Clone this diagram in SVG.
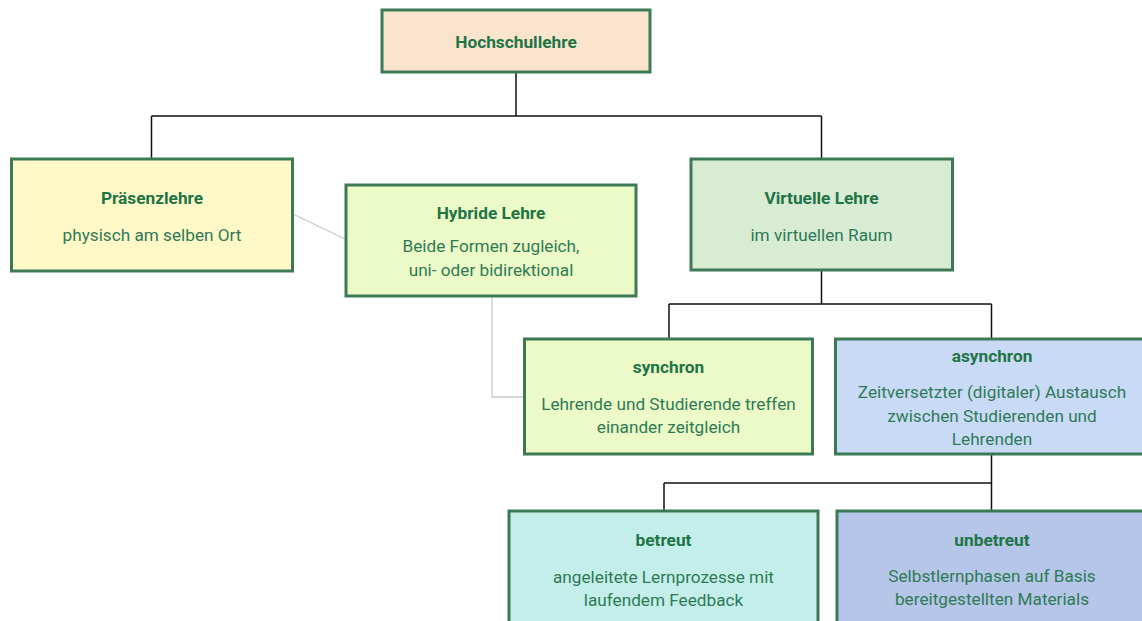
<svg xmlns="http://www.w3.org/2000/svg" width="1142" height="621" viewBox="0 0 1142 621">
<style>
.box{stroke:#3c7a55;stroke-width:3}
.t{font-family:Roboto,"Liberation Sans",sans-serif;font-weight:bold;font-size:17.3px;fill:#1f7446;text-anchor:middle}
.s{font-family:Roboto,"Liberation Sans",sans-serif;font-size:17.2px;fill:#2f7a56;text-anchor:middle}
.c{fill:none;stroke:#111;stroke-width:1.5}
.g{fill:none;stroke:#c9c9c9;stroke-width:1.3}
</style>
<rect width="1142" height="621" fill="#fff"/>
<g id="connectors">
<path class="c" d="M516 72V116M151.5 116H821.5M151.5 116V159M821.5 116V159"/>
<path class="c" d="M821.5 270V304M669 304H991.5M669 304V339M991.5 304V339"/>
<path class="c" d="M991.5 454V483M664 483H991.5M664 483V511M991.5 483V511"/>
<path class="g" d="M293 214L345 239"/>
<path class="g" d="M492 297V397H524"/>
</g>
<g id="hochschullehre">
<rect class="box" x="382" y="10" width="268" height="62" fill="#fbe4cd"/>
<text class="t" x="516" y="48">Hochschullehre</text>
</g>
<g id="praesenzlehre">
<rect class="box" x="11.5" y="159" width="281" height="112" fill="#fff9c8"/>
<text class="t" x="152" y="204">Präsenzlehre</text>
<text class="s" x="152" y="241">physisch am selben Ort</text>
</g>
<g id="hybride">
<rect class="box" x="346" y="185" width="290" height="111" fill="#ebfac6"/>
<text class="t" x="491" y="219">Hybride Lehre</text>
<text class="s" x="491" y="252">Beide Formen zugleich,</text>
<text class="s" x="491" y="276">uni- oder bidirektional</text>
</g>
<g id="virtuelle">
<rect class="box" x="691" y="159" width="261.5" height="111" fill="#d8ebd3"/>
<text class="t" x="821.5" y="204">Virtuelle Lehre</text>
<text class="s" x="821.5" y="241">im virtuellen Raum</text>
</g>
<g id="synchron">
<rect class="box" x="524.5" y="339" width="288" height="115" fill="#ebfac6"/>
<text class="t" x="668.5" y="373">synchron</text>
<text class="s" x="668.5" y="410">Lehrende und Studierende treffen</text>
<text class="s" x="668.5" y="433">einander zeitgleich</text>
</g>
<g id="asynchron">
<rect class="box" x="835.5" y="339" width="314" height="115" fill="#c9daf7"/>
<text class="t" x="992" y="362">asynchron</text>
<text class="s" x="992" y="398">Zeitversetzter (digitaler) Austausch</text>
<text class="s" x="992" y="422">zwischen Studierenden und</text>
<text class="s" x="992" y="445">Lehrenden</text>
</g>
<g id="betreut">
<rect class="box" x="509" y="511" width="309" height="130" fill="#c3eeea"/>
<text class="t" x="663.5" y="546">betreut</text>
<text class="s" x="663.5" y="583">angeleitete Lernprozesse mit</text>
<text class="s" x="663.5" y="606">laufendem Feedback</text>
</g>
<g id="unbetreut">
<rect class="box" x="837" y="511" width="312" height="130" fill="#b5c6e8"/>
<text class="t" x="992" y="546">unbetreut</text>
<text class="s" x="992" y="582">Selbstlernphasen auf Basis</text>
<text class="s" x="992" y="605">bereitgestellten Materials</text>
</g>
</svg>
